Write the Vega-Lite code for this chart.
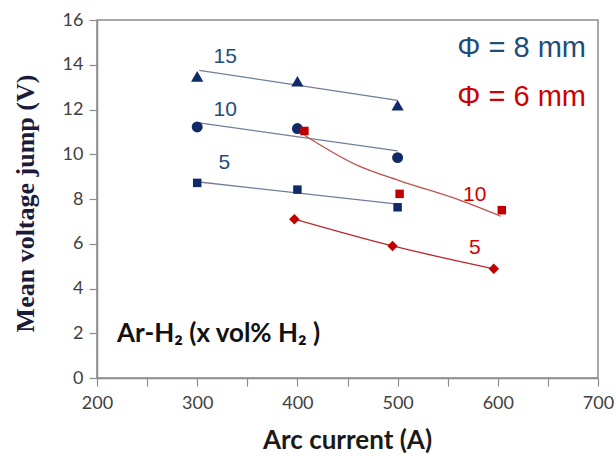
{
  "$schema": "https://vega.github.io/schema/vega-lite/v6.json",
  "autosize": "none",
  "width": 501,
  "height": 358,
  "padding": {"left": 97, "top": 20, "right": 18, "bottom": 78},
  "background": "white",
  "config": {
    "view": {"stroke": "#8c8c8c", "strokeWidth": 1.5},
    "axis": {"grid": false, "domainColor": "#8c8c8c", "domainWidth": 1.5, "tickColor": "#8c8c8c", "tickWidth": 1.2, "tickSize": 8, "labelFont": "Lato", "labelFontSize": 18, "labelColor": "#404040", "labelFlush": false}
  },
  "datasets": {
    "pts": [
      {"current": 300, "voltage": 13.48, "series": "b15"},
      {"current": 400, "voltage": 13.26, "series": "b15"},
      {"current": 500, "voltage": 12.19, "series": "b15"},
      {"current": 300, "voltage": 11.22, "series": "b10"},
      {"current": 400, "voltage": 11.15, "series": "b10"},
      {"current": 500, "voltage": 9.85, "series": "b10"},
      {"current": 300, "voltage": 8.72, "series": "b5"},
      {"current": 400, "voltage": 8.42, "series": "b5"},
      {"current": 500, "voltage": 7.63, "series": "b5"},
      {"current": 407, "voltage": 11.04, "series": "r10"},
      {"current": 502, "voltage": 8.23, "series": "r10"},
      {"current": 604, "voltage": 7.5, "series": "r10"},
      {"current": 397, "voltage": 7.1, "series": "r5"},
      {"current": 495, "voltage": 5.9, "series": "r5"},
      {"current": 596, "voltage": 4.88, "series": "r5"}
    ],
    "fits": [
      {"current": 302, "voltage": 13.75, "series": "b15"},
      {"current": 500, "voltage": 12.41, "series": "b15"},
      {"current": 302, "voltage": 11.4, "series": "b10"},
      {"current": 500, "voltage": 10.15, "series": "b10"},
      {"current": 302, "voltage": 8.76, "series": "b5"},
      {"current": 500, "voltage": 7.77, "series": "b5"},
      {"current": 407, "voltage": 10.85, "series": "r10"},
      {"current": 460, "voltage": 9.5, "series": "r10"},
      {"current": 503, "voltage": 8.8, "series": "r10"},
      {"current": 560, "voltage": 7.98, "series": "r10"},
      {"current": 603, "voltage": 7.23, "series": "r10"},
      {"current": 397, "voltage": 7.1, "series": "r5"},
      {"current": 495, "voltage": 5.9, "series": "r5"},
      {"current": 596, "voltage": 4.88, "series": "r5"}
    ],
    "labels": [
      {"current": 328, "voltage": 14.35, "text": "15", "grp": "b"},
      {"current": 328, "voltage": 11.96, "text": "10", "grp": "b"},
      {"current": 327, "voltage": 9.6, "text": "5", "grp": "b"},
      {"current": 577, "voltage": 8.17, "text": "10", "grp": "r"},
      {"current": 577, "voltage": 5.8, "text": "5", "grp": "r"}
    ],
    "legend": [
      {"current": 688, "voltage": 14.73, "text": "Φ = 8 mm", "grp": "b"},
      {"current": 688, "voltage": 12.54, "text": "Φ = 6 mm", "grp": "r"}
    ],
    "note": [
      {"current": 220, "voltage": 1.96, "text": "Ar-H₂ (x vol% H₂ )"}
    ]
  },
  "layer": [
    {
      "data": {"name": "fits"},
      "mark": {"type": "line", "strokeWidth": 1.3, "interpolate": "monotone"},
      "encoding": {
        "x": {"field": "current", "type": "quantitative", "scale": {"domain": [200, 700], "nice": false},
          "axis": {"values": [200, 250, 300, 350, 400, 450, 500, 550, 600, 650, 700], "labelExpr": "datum.value % 100 == 0 ? datum.label : ''", "labelPadding": 8,
            "title": "Arc current (A)", "titleFont": "Lato", "titleFontSize": 26, "titleFontWeight": "bold", "titleColor": "#1a1a1a", "titleX": 250, "titleY": 62, "titleBaseline": "middle"}},
        "y": {"field": "voltage", "type": "quantitative", "scale": {"domain": [0, 16], "nice": false},
          "axis": {"values": [0,1,2,3,4,5,6,7,8,9,10,11,12,13,14,15,16], "labelExpr": "datum.value % 2 == 0 ? datum.label : ''", "labelPadding": 6,
            "title": "Mean voltage jump (V)", "titleFont": "Liberation Serif", "titleFontSize": 26, "titleFontWeight": "bold", "titleColor": "#1c1c3a", "titleX": -72, "titleY": 183, "titleAngle": -90, "titleAlign": "center", "titleBaseline": "middle"}},
        "detail": {"field": "series"},
        "stroke": {"field": "series", "type": "nominal", "legend": null,
          "scale": {"domain": ["b15", "b10", "b5", "r10", "r5"], "range": ["#6f7f96", "#6f7f96", "#6f7f96", "#c0504d", "#b8282e"]}}
      }
    },
    {
      "data": {"name": "pts"},
      "mark": {"type": "point", "filled": true, "opacity": 1},
      "encoding": {
        "x": {"field": "current", "type": "quantitative"},
        "y": {"field": "voltage", "type": "quantitative"},
        "shape": {"field": "series", "type": "nominal", "legend": null,
          "scale": {"domain": ["b15", "b10", "b5", "r10", "r5"], "range": ["triangle-up", "circle", "square", "square", "diamond"]}},
        "size": {"field": "series", "type": "nominal", "legend": null,
          "scale": {"type": "ordinal", "domain": ["b15", "b10", "b5", "r10", "r5"], "range": [150, 120, 72, 72, 110]}},
        "fill": {"field": "series", "type": "nominal", "legend": null,
          "scale": {"domain": ["b15", "b10", "b5", "r10", "r5"], "range": ["#0f2a66", "#0f2a66", "#0f2a66", "#c00000", "#c00000"]}}
      }
    },
    {
      "data": {"name": "labels"},
      "mark": {"type": "text", "font": "Liberation Sans", "fontSize": 21, "align": "center", "baseline": "middle"},
      "encoding": {
        "x": {"field": "current", "type": "quantitative"},
        "y": {"field": "voltage", "type": "quantitative"},
        "text": {"field": "text"},
        "color": {"field": "grp", "type": "nominal", "legend": null,
          "scale": {"domain": ["b", "r"], "range": ["#1f4e79", "#d00000"]}}
      }
    },
    {
      "data": {"name": "legend"},
      "mark": {"type": "text", "font": "Liberation Sans", "fontSize": 29, "align": "right", "baseline": "middle"},
      "encoding": {
        "x": {"field": "current", "type": "quantitative"},
        "y": {"field": "voltage", "type": "quantitative"},
        "text": {"field": "text"},
        "color": {"field": "grp", "type": "nominal", "legend": null,
          "scale": {"domain": ["b", "r"], "range": ["#1f4e79", "#d00000"]}}
      }
    },
    {
      "data": {"name": "note"},
      "mark": {"type": "text", "font": "Lato", "fontSize": 26, "fontWeight": "bold", "align": "left", "baseline": "middle", "color": "#111111"},
      "encoding": {
        "x": {"field": "current", "type": "quantitative"},
        "y": {"field": "voltage", "type": "quantitative"},
        "text": {"field": "text"}
      }
    }
  ],
  "resolve": {"scale": {"fill": "independent", "stroke": "independent", "color": "independent", "shape": "independent", "size": "independent"}}
}
